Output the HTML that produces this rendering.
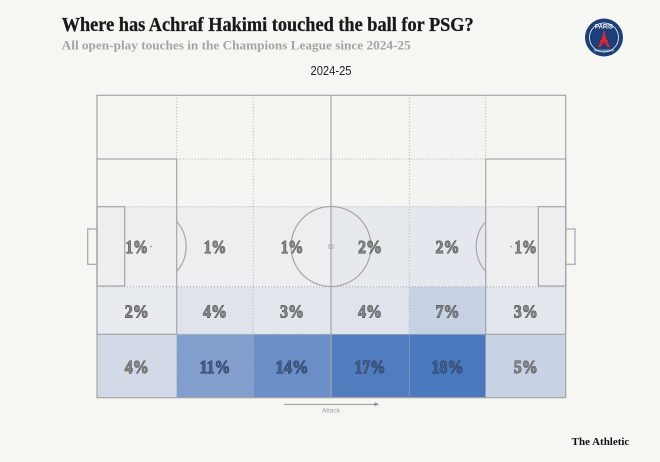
<!DOCTYPE html>
<html>
<head>
<meta charset="utf-8">
<style>
  html,body{margin:0;padding:0;background:#f6f6f2;}
  svg{display:block;}
  .pct{font-family:"Liberation Serif",serif;font-weight:bold;font-size:18px;text-anchor:middle;paint-order:stroke;stroke-width:0.9px;}
  .lt{fill:#868686;stroke:#444444;}
  .dk{fill:#44608d;stroke:#22324f;}
</style>
</head>
<body>
<svg width="660" height="462" viewBox="0 0 660 462" xmlns="http://www.w3.org/2000/svg">
  <rect x="0" y="0" width="660" height="462" fill="#f6f6f2"/>

  <!-- Title -->
  <text x="61.7" y="31" font-family="Liberation Serif, serif" font-weight="bold" font-size="19.5" fill="#1a1a1a" stroke="#1a1a1a" stroke-width="0.3" textLength="412" lengthAdjust="spacingAndGlyphs">Where has Achraf Hakimi touched the ball for PSG?</text>
  <text x="61.7" y="49.3" font-family="Liberation Serif, serif" font-weight="bold" font-size="13" fill="#a4a4a2" textLength="349" lengthAdjust="spacingAndGlyphs">All open-play touches in the Champions League since 2024-25</text>
  <text x="331" y="75" font-family="Liberation Sans, sans-serif" font-size="12.5" fill="#222" text-anchor="middle" textLength="41" lengthAdjust="spacingAndGlyphs">2024-25</text>

  <!-- PSG logo -->
  <g>
    <circle cx="604" cy="37.5" r="19" fill="#1c3f79"/>
    <circle cx="604" cy="37.5" r="14.5" fill="none" stroke="#ffffff" stroke-width="0.8"/>
    <text x="604" y="28.5" font-family="Liberation Sans, sans-serif" font-weight="bold" font-size="6" fill="#fff" text-anchor="middle">PARIS</text>
    <path d="M604 29.5 L606.5 40 L610 47 L607.5 47 L604 42 L600.5 47 L598 47 L601.5 40 Z" fill="#e0262f"/>
    <rect x="600" y="40" width="8" height="1.2" fill="#e0262f"/>
    <text x="604" y="51.5" font-family="Liberation Sans, sans-serif" font-size="2.6" fill="#fff" text-anchor="middle">SAINT-GERMAIN</text>
  </g>

  <!-- Zone fills -->
  <rect x="97" y="95.3" width="468.7" height="111.4" fill="#f5f5f2"/>
  <rect x="409.3" y="95.3" width="76.4" height="111.4" fill="#f3f4f1"/>
  <!-- Row 3 -->
  <rect x="97" y="206.7" width="79.7" height="80" fill="#eceef0"/>
  <rect x="176.7" y="206.7" width="76.6" height="80" fill="#eceef0"/>
  <rect x="253.3" y="206.7" width="77.7" height="80" fill="#eceef0"/>
  <rect x="331" y="206.7" width="78.3" height="80" fill="#e6e9ee"/>
  <rect x="409.3" y="206.7" width="76.4" height="80" fill="#e4e8ee"/>
  <rect x="485.7" y="206.7" width="80" height="80" fill="#eceef0"/>
  <!-- Row 4 -->
  <rect x="97" y="286.7" width="79.7" height="47.6" fill="#e7eaee"/>
  <rect x="176.7" y="286.7" width="76.6" height="47.6" fill="#dfe4ec"/>
  <rect x="253.3" y="286.7" width="77.7" height="47.6" fill="#e2e6ed"/>
  <rect x="331" y="286.7" width="78.3" height="47.6" fill="#dfe4ec"/>
  <rect x="409.3" y="286.7" width="76.4" height="47.6" fill="#c6d2e4"/>
  <rect x="485.7" y="286.7" width="80" height="47.6" fill="#e2e6ed"/>
  <!-- Row 5 -->
  <rect x="97" y="334.3" width="79.7" height="63.4" fill="#d2dae7"/>
  <rect x="176.7" y="334.3" width="76.6" height="63.4" fill="#819ecd"/>
  <rect x="253.3" y="334.3" width="77.7" height="63.4" fill="#6b8ec6"/>
  <rect x="331" y="334.3" width="78.3" height="63.4" fill="#517cbe"/>
  <rect x="409.3" y="334.3" width="76.4" height="63.4" fill="#4b79be"/>
  <rect x="485.7" y="334.3" width="80" height="63.4" fill="#c7d2e5"/>

  <!-- Dotted zone lines -->
  <g stroke="#aaaaaa" stroke-width="1" stroke-dasharray="1 2" fill="none">
    <line x1="253.3" y1="95.3" x2="253.3" y2="397.7"/>
    <line x1="409.3" y1="95.3" x2="409.3" y2="397.7"/>
    <line x1="176.7" y1="95.3" x2="176.7" y2="159"/>
    <line x1="485.7" y1="95.3" x2="485.7" y2="159"/>
    <line x1="176.7" y1="334.3" x2="176.7" y2="397.7"/>
    <line x1="485.7" y1="334.3" x2="485.7" y2="397.7"/>
    <line x1="176.7" y1="159" x2="485.7" y2="159"/>
    <line x1="124.7" y1="206.7" x2="538.3" y2="206.7"/>
    <line x1="97" y1="286.7" x2="565.7" y2="286.7"/>
    <line x1="176.7" y1="334.3" x2="485.7" y2="334.3"/>
  </g>

  <!-- Pitch markings -->
  <g stroke="#a6a6a6" stroke-width="1.2" fill="none">
    <rect x="97" y="95.3" width="468.7" height="302.4"/>
    <line x1="331" y1="95.3" x2="331" y2="397.7"/>
    <circle cx="331" cy="246.5" r="40"/>
    <rect x="329" y="244.8" width="4" height="3.4" stroke-width="0.8"/>
    <rect x="97" y="159" width="79.7" height="175.3"/>
    <rect x="97" y="206.7" width="27.7" height="79.3"/>
    <rect x="87.7" y="229" width="9.3" height="35.3"/>
    <path d="M176.7 221.5 A37.7 37.7 0 0 1 176.7 271.5"/>
    <rect x="485.7" y="159" width="80" height="175.3"/>
    <rect x="538.3" y="206.7" width="27.4" height="79.3"/>
    <rect x="565.7" y="229" width="9.3" height="35.3"/>
    <path d="M485.7 221.5 A37.7 37.7 0 0 0 485.7 271.5"/>
  </g>
  <circle cx="151" cy="246.5" r="0.9" fill="#999"/>
  <circle cx="511" cy="246.5" r="0.9" fill="#999"/>

  <!-- Percentages -->
  <g>
    <text class="pct lt" x="136.8" y="253" textLength="22.6" lengthAdjust="spacingAndGlyphs">1%</text>
    <text class="pct lt" x="215" y="253" textLength="22.6" lengthAdjust="spacingAndGlyphs">1%</text>
    <text class="pct lt" x="292" y="253" textLength="22.6" lengthAdjust="spacingAndGlyphs">1%</text>
    <text class="pct lt" x="370" y="253" textLength="24" lengthAdjust="spacingAndGlyphs">2%</text>
    <text class="pct lt" x="447.5" y="253" textLength="24" lengthAdjust="spacingAndGlyphs">2%</text>
    <text class="pct lt" x="525.7" y="253" textLength="22.6" lengthAdjust="spacingAndGlyphs">1%</text>

    <text class="pct lt" x="136.8" y="317.5" textLength="24" lengthAdjust="spacingAndGlyphs">2%</text>
    <text class="pct lt" x="215" y="317.5" textLength="24" lengthAdjust="spacingAndGlyphs">4%</text>
    <text class="pct lt" x="292" y="317.5" textLength="24" lengthAdjust="spacingAndGlyphs">3%</text>
    <text class="pct lt" x="370" y="317.5" textLength="24" lengthAdjust="spacingAndGlyphs">4%</text>
    <text class="pct lt" x="447.5" y="317.5" textLength="24" lengthAdjust="spacingAndGlyphs">7%</text>
    <text class="pct lt" x="525.7" y="317.5" textLength="24" lengthAdjust="spacingAndGlyphs">3%</text>

    <text class="pct lt" x="136.8" y="373" textLength="24" lengthAdjust="spacingAndGlyphs">4%</text>
    <text class="pct dk" x="215" y="373" textLength="30.7" lengthAdjust="spacingAndGlyphs">11%</text>
    <text class="pct dk" x="292" y="373" textLength="33" lengthAdjust="spacingAndGlyphs">14%</text>
    <text class="pct dk" x="370" y="373" textLength="30.7" lengthAdjust="spacingAndGlyphs">17%</text>
    <text class="pct dk" x="447.5" y="373" textLength="32.3" lengthAdjust="spacingAndGlyphs">18%</text>
    <text class="pct lt" x="525.7" y="373" textLength="24" lengthAdjust="spacingAndGlyphs">5%</text>
  </g>

  <!-- Attack arrow -->
  <line x1="284.3" y1="404.3" x2="376" y2="404.3" stroke="#8a8a8a" stroke-width="0.9"/>
  <path d="M379 404.3 L374.5 402.3 L374.5 406.3 Z" fill="#8a8a8a"/>
  <text x="331" y="412.5" font-family="Liberation Sans, sans-serif" font-size="6.5" fill="#9a9a9a" text-anchor="middle">Attack</text>

  <!-- Footer -->
  <text x="571.7" y="445" font-family="Liberation Serif, serif" font-weight="bold" font-size="10.5" fill="#111" textLength="57.6" lengthAdjust="spacingAndGlyphs">The Athletic</text>
</svg>
</body>
</html>
